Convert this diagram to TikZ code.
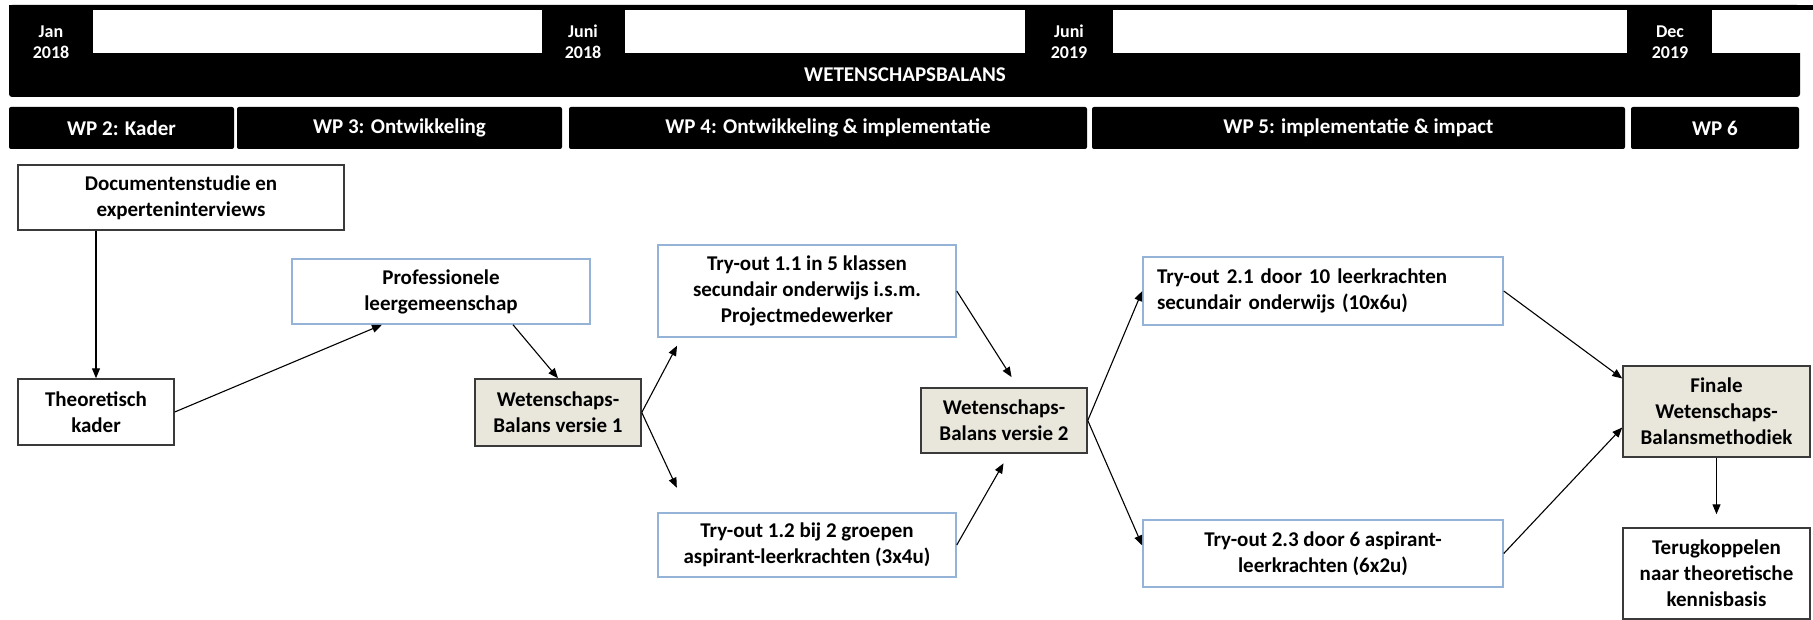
\documentclass[tikz,border=0pt]{standalone}
\usepackage{fontspec}
\setmainfont{Carlito}
\usetikzlibrary{arrows.meta}

\definecolor{boxgray}{HTML}{E9E7DC}
\definecolor{boxblue}{HTML}{95B3D7}
\definecolor{boxedge}{HTML}{3A3A3A}

\begin{document}
\begin{tikzpicture}[x=1pt, y=-1pt,
    every node/.style={font=\fontsize{21}{26}\selectfont\bfseries, align=center, inner sep=0pt},
    box/.style={draw=boxedge, line width=1.5pt, fill=white},
    bluebox/.style={draw=boxblue, line width=1.5pt, fill=white},
    graybox/.style={draw=boxedge, line width=1.5pt, fill=boxgray},
    wpbar/.style={fill=black, text=white, rounded corners=2pt, minimum height=42pt},
    datelbl/.style={text=white, font=\fontsize{18}{21}\selectfont\bfseries},
    arr/.style={-{Triangle[length=10pt,width=8pt]}, line width=1.1pt}]
    \useasboundingbox (0,0) rectangle (1813,620);

    % Timeline
    \fill[black, rounded corners=3pt] (9,5) rectangle (1800,97);
    \fill[black] (9,5) rectangle (1813,10);
    \fill[white] (93,10) rectangle (542,53);
    \fill[white] (625,10) rectangle (1025,53);
    \fill[white] (1113,10) rectangle (1627,53);
    \fill[white] (1712,10) rectangle (1813,53);
    \node[datelbl] (jan18) at (51,42) {Jan\\2018};
    \node[datelbl] (jun18) at (583,42) {Juni\\2018};
    \node[datelbl] (jun19) at (1069,42) {Juni\\2019};
    \node[datelbl] (dec19) at (1670,42) {Dec\\2019};
    \node[text=white] (titel) at (905,75) {WETENSCHAPSBALANS};

    % Work packages
    \node[wpbar, minimum width=225pt] (wp2) at (121.5,128) {WP 2: Kader};
    \node[wpbar, minimum width=325pt] (wp3) at (399.5,128) {WP 3: Ontwikkeling};
    \node[wpbar, minimum width=518pt] (wp4) at (828,128) {WP 4: Ontwikkeling \& implementatie};
    \node[wpbar, minimum width=533pt] (wp5) at (1358.5,128) {WP 5: implementatie \& impact};
    \node[wpbar, minimum width=168pt] (wp6) at (1715,128) {WP 6};

    % Nodes
    \node[box, minimum width=326pt, minimum height=65pt] (doc) at (181,197.5) {Documentenstudie en\\experteninterviews};
    \node[box, minimum width=156pt, minimum height=66pt] (theo) at (96,412) {Theoretisch\\kader};
    \node[bluebox, minimum width=298pt, minimum height=65pt] (prof) at (441,291.5) {Professionele\\leergemeenschap};
    \node[graybox, minimum width=166pt, minimum height=67pt] (wb1) at (558,412.5) {Wetenschaps-\\Balans versie 1};
    \node[bluebox, minimum width=298pt, minimum height=92pt] (t11) at (807,291) {Try-out 1.1 in 5 klassen\\secundair onderwijs i.s.m.\\Projectmedewerker};
    \node[bluebox, minimum width=298pt, minimum height=64pt] (t12) at (807,545) {Try-out 1.2 bij 2 groepen\\aspirant-leerkrachten (3x4u)};
    \node[graybox, minimum width=166pt, minimum height=65pt] (wb2) at (1004,420.5) {Wetenschaps-\\Balans versie 2};
    \node[bluebox, minimum width=360pt, minimum height=68pt, align=left, text width=332pt] (t21) at (1323,291) {Try-out 2.1 door 10 leerkrachten\\secundair onderwijs (10x6u)};
    \node[bluebox, minimum width=360pt, minimum height=67pt] (t23) at (1323,553.5) {Try-out 2.3 door 6 aspirant-\\leerkrachten (6x2u)};
    \node[graybox, minimum width=187pt, minimum height=91pt] (finale) at (1716.5,411.5) {Finale\\Wetenschaps-\\Balansmethodiek};
    \node[box, minimum width=187pt, minimum height=91pt] (terug) at (1716.5,573.5) {Terugkoppelen\\naar theoretische\\kennisbasis};

    % Lines
    \draw[arr] (doc.south -| theo.north) -- (theo.north);
    \draw[arr] (theo.east) -- ([xshift=-59pt]prof.south);
    \draw[arr] ([xshift=72pt]prof.south) -- (wb1.north);
    \draw[arr, shorten >=9pt] (wb1.east) -- ([xshift=24pt]t11.south west);
    \draw[arr, shorten >=27pt] (wb1.east) -- ([xshift=31pt]t12.north west);
    \draw[arr, shorten >=12pt] (t11.east) -- ([xshift=14pt]wb2.north);
    \draw[arr, shorten >=11pt] (t12.east) -- ([xshift=5pt]wb2.south);
    \draw[arr] (wb2.east) -- (t21.west);
    \draw[arr] (wb2.east) -- ([yshift=8pt]t23.west);
    \draw[arr] (t21.east) -- ([yshift=33pt]finale.west);
    \draw[arr] (t23.east) -- ([yshift=-16pt]finale.west);
    \draw[arr, shorten >=13pt] (finale.south) -- (terug.north);
\end{tikzpicture}
\end{document}
